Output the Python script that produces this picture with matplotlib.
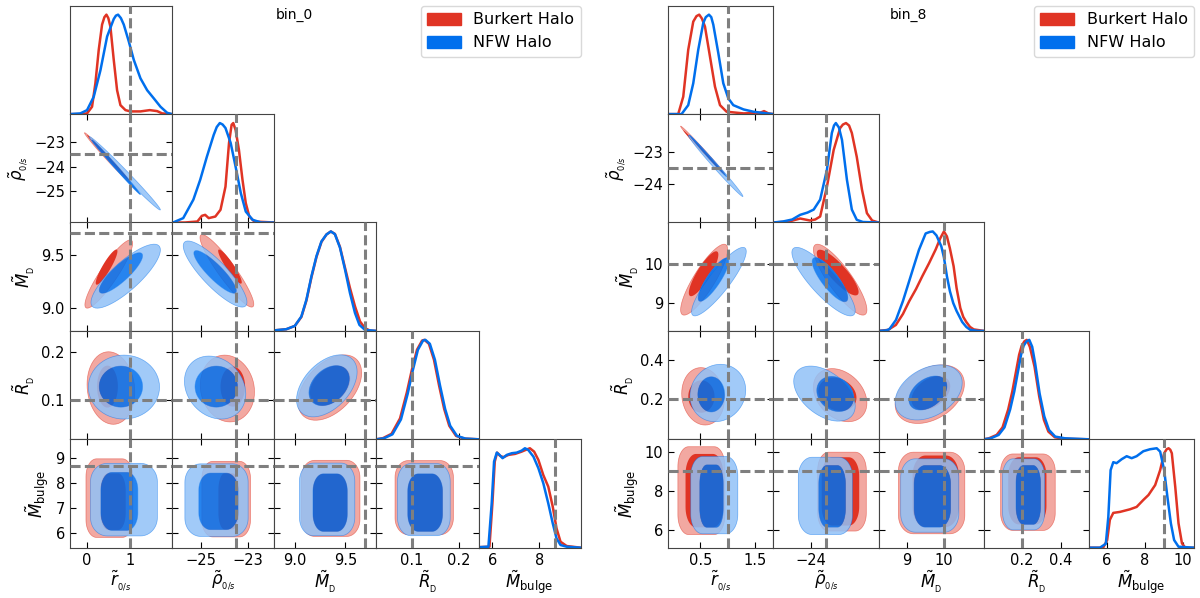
import numpy as np
import matplotlib
matplotlib.use('Agg')
import matplotlib.pyplot as plt
from matplotlib.colors import to_rgb, to_rgba
from matplotlib.patches import Patch, PathPatch
from matplotlib.path import Path
from matplotlib.transforms import Affine2D

RED = '#E03424'
BLUE = '#006FED'
TRUTH = '#7f7f7f'

names = ['Burkert Halo', 'NFW Halo']
xlabels = [r'$\tilde{r}_{_{0/s}}$', r'$\tilde{\rho}_{_{0/s}}$', r'$\tilde{M}_{_{\rm D}}$',
           r'$\tilde{R}_{_{\rm D}}$', r'$\tilde{M}_{\rm bulge}$']

# lower-triangle 2D panels, in this order
pairs = [(1, 0), (2, 0), (2, 1), (3, 0), (3, 1), (3, 2), (4, 0), (4, 1), (4, 2), (4, 3)]

# ---------------- bin_0 ----------------
bin0_xlim = [(-0.40, 1.955), (-26.23, -21.9), (8.795, 9.807), (0.0252, 0.2423), (5.42, 9.756)]
bin0_ylim = [None, (-26.28, -21.85), (8.787, 9.803), (0.0176, 0.2447), (5.41, 9.74)]
bin0_truth = [1.0, -23.5, 9.7, 0.1, 8.68]
bin0_xticks = [[0, 1], [-25, -23], [9.0, 9.5], [0.1, 0.2], [6, 8]]
bin0_xticklabels = [['0', '1'], ['\u221225', '\u221223'], ['9.0', '9.5'], ['0.1', '0.2'], ['6', '8']]
bin0_yticks = [None, [-25, -24, -23], [9.0, 9.5], [0.1, 0.2], [6, 7, 8, 9]]
bin0_yticklabels = [None, ['\u221225', '\u221224', '\u221223'], ['9.0', '9.5'], ['0.1', '0.2'],
                    ['6', '7', '8', '9']]

# (cx, cy, half-width x, half-width y, correlation, corner rounding)
bin0_burkert_outer = [
    (0.47, -23.63, 0.53, 1.02, -0.993, 1),
    (0.50, 9.32, 0.55, 0.32, 0.90, 1),
    (-23.90, 9.35, 1.14, 0.34, -0.92, 1),
    (0.55, 0.125, 0.55, 0.076, -0.1, 1),
    (-23.88, 0.124, 1.15, 0.070, -0.1, 1),
    (9.347, 0.126, 0.315, 0.0685, 0.45, 1),
    (0.515, 7.39, 0.54, 1.57, 0.0, 0.45),
    (-23.93, 7.35, 1.03, 1.51, 0.0, 0.45),
    (9.355, 7.38, 0.29, 1.52, 0.0, 0.45),
    (0.127, 7.41, 0.062, 1.48, 0.0, 0.45),
]
bin0_burkert_inner = [
    (0.48, -23.62, 0.48, 0.92, -0.996, 1),
    (0.45, 9.385, 0.25, 0.165, 0.90, 1),
    (-23.77, 9.39, 0.50, 0.16, -0.92, 1),
    (0.47, 0.128, 0.24, 0.044, 0.0, 1),
    (-23.65, 0.128, 0.52, 0.042, 0.0, 1),
    (9.35, 0.13, 0.20, 0.042, 0.35, 1),
    (0.60, 7.25, 0.29, 1.13, 0.0, 0.6),
    (-23.83, 7.26, 0.43, 1.12, 0.0, 0.6),
    (9.35, 7.21, 0.17, 1.15, 0.0, 0.6),
    (0.129, 7.21, 0.037, 1.15, 0.0, 0.6),
]
bin0_nfw_outer = [
    (0.87, -24.27, 0.82, 1.50, -0.993, 1),
    (0.89, 9.30, 0.80, 0.30, 0.82, 1),
    (-24.40, 9.32, 1.35, 0.31, -0.85, 1),
    (0.85, 0.127, 0.82, 0.067, 0.0, 1),
    (-24.40, 0.126, 1.30, 0.066, -0.2, 1),
    (9.317, 0.1296, 0.30, 0.065, 0.45, 1),
    (0.85, 7.33, 0.77, 1.45, 0.0, 0.5),
    (-24.34, 7.31, 1.34, 1.45, 0.0, 0.5),
    (9.32, 7.34, 0.274, 1.45, 0.0, 0.5),
    (0.1262, 7.33, 0.056, 1.44, 0.0, 0.5),
]
bin0_nfw_inner = [
    (0.67, -24.02, 0.56, 1.12, -0.996, 1),
    (0.78, 9.33, 0.50, 0.19, 0.85, 1),
    (-24.40, 9.34, 0.90, 0.20, -0.88, 1),
    (0.78, 0.128, 0.50, 0.043, 0.0, 1),
    (-24.35, 0.128, 0.90, 0.043, 0.0, 1),
    (9.34, 0.13, 0.20, 0.042, 0.35, 1),
    (0.745, 7.26, 0.425, 1.16, 0.0, 0.6),
    (-24.26, 7.26, 0.83, 1.13, 0.0, 0.6),
    (9.35, 7.21, 0.17, 1.15, 0.0, 0.6),
    (0.129, 7.21, 0.037, 1.15, 0.0, 0.6),
]

bin0_burkert_1d = [
    ([-0.40, -0.154, 0.0, 0.115, 0.192, 0.269, 0.346, 0.40, 0.446, 0.49, 0.538, 0.615, 0.692,
      0.769, 0.885, 1.0, 1.23, 1.446, 1.615, 1.73, 1.955],
     [0, 0, 0.007, 0.074, 0.31, 0.646, 0.9, 0.975, 1.0, 0.965, 0.88, 0.545, 0.24, 0.09, 0.04,
      0.027, 0.027, 0.04, 0.03, 0.007, 0]),
    ([-26.23, -25.68, -25.15, -24.96, -24.82, -24.67, -24.39, -24.17, -23.96, -23.81, -23.7,
      -23.63, -23.53, -23.39, -23.24, -23.1, -22.95, -22.74, -21.9],
     [0, 0, 0.01, 0.067, 0.077, 0.044, 0.06, 0.128, 0.36, 0.8, 0.983, 1.0, 0.93, 0.73, 0.43,
      0.195, 0.06, 0.01, 0]),
    ([8.795, 8.916, 9.0, 9.065, 9.115, 9.165, 9.215, 9.264, 9.314, 9.357, 9.397, 9.447, 9.497,
      9.546, 9.596, 9.646, 9.695, 9.745, 9.807],
     [0.005, 0.017, 0.05, 0.14, 0.305, 0.54, 0.745, 0.895, 0.97, 1.0, 0.975, 0.845, 0.635, 0.432,
      0.247, 0.095, 0.027, 0.003, 0]),
    ([0.0252, 0.0395, 0.0575, 0.0756, 0.090, 0.1008, 0.1116, 0.1225, 0.1275, 0.137, 0.1477,
      0.1586, 0.1694, 0.1802, 0.1946, 0.2127, 0.2423],
     [0, 0.012, 0.055, 0.21, 0.47, 0.7, 0.9, 0.993, 1.0, 0.96, 0.8, 0.54, 0.305, 0.136, 0.034,
      0.007, 0]),
    ([5.42, 5.885, 6.01, 6.11, 6.21, 6.34, 6.48, 6.69, 6.97, 7.25, 7.49, 7.6, 7.78, 7.96, 8.17,
      8.38, 8.57, 8.73, 8.9, 9.16, 9.756],
     [0.005, 0.01, 0.446, 0.866, 0.956, 0.923, 0.91, 0.933, 0.943, 0.966, 0.99, 1.0, 0.966,
      0.883, 0.73, 0.614, 0.413, 0.195, 0.06, 0.017, 0]),
]
bin0_nfw_1d = [
    ([-0.40, -0.154, 0.0, 0.154, 0.308, 0.462, 0.615, 0.665, 0.715, 0.78, 0.846, 0.962, 1.077,
      1.23, 1.385, 1.538, 1.692, 1.846, 1.955],
     [0, 0.007, 0.04, 0.175, 0.44, 0.78, 0.956, 0.99, 1.0, 0.965, 0.9, 0.73, 0.545, 0.36, 0.24,
      0.158, 0.074, 0.013, 0]),
    ([-26.23, -26.18, -25.75, -25.32, -25.03, -24.75, -24.46, -24.33, -24.2, -24.08, -23.96,
      -23.74, -23.53, -23.31, -23.1, -22.81, -22.45, -21.9],
     [0, 0, 0.044, 0.23, 0.43, 0.66, 0.88, 0.96, 1.0, 0.985, 0.95, 0.8, 0.56, 0.295, 0.11, 0.027,
      0, 0]),
    ([8.795, 8.916, 9.0, 9.065, 9.115, 9.165, 9.215, 9.264, 9.314, 9.357, 9.397, 9.447, 9.497,
      9.546, 9.596, 9.64, 9.695, 9.807],
     [0.005, 0.017, 0.05, 0.145, 0.314, 0.55, 0.753, 0.9, 0.97, 1.0, 0.973, 0.838, 0.618, 0.382,
      0.18, 0.06, 0.01, 0]),
    ([0.0252, 0.0415, 0.0595, 0.0776, 0.092, 0.1028, 0.1136, 0.1245, 0.1295, 0.139, 0.1497,
      0.1606, 0.1714, 0.1822, 0.1966, 0.2147, 0.2423],
     [0, 0.01, 0.05, 0.2, 0.46, 0.695, 0.9, 0.993, 1.0, 0.96, 0.8, 0.54, 0.305, 0.136, 0.034,
      0.007, 0]),
    ([5.42, 5.84, 5.98, 6.08, 6.196, 6.31, 6.44, 6.62, 6.83, 7.04, 7.25, 7.39, 7.53, 7.75, 7.96,
      8.17, 8.38, 8.57, 8.73, 8.9, 9.16, 9.756],
     [0.005, 0.01, 0.446, 0.866, 0.956, 0.933, 0.9, 0.933, 0.95, 0.956, 0.976, 1.0, 0.983, 0.916,
      0.8, 0.648, 0.446, 0.245, 0.094, 0.027, 0.01, 0]),
]

# ---------------- bin_8 ----------------
bin8_xlim = [(-0.087, 1.836), (-25.21, -21.79), (8.247, 11.07), (0.004, 0.543), (5.08, 10.58)]
bin8_ylim = [None, (-25.22, -21.79), (8.30, 11.05), (-0.005, 0.55), (5.077, 10.63)]
bin8_truth = [1.0, -23.5, 10.0, 0.2, 9.0]
bin8_xticks = [[0.5, 1.5], [-24], [9, 10], [0.2, 0.4], [6, 8, 10]]
bin8_xticklabels = [['0.5', '1.5'], ['\u221224'], ['9', '10'], ['0.2', '0.4'], ['6', '8', '10']]
bin8_yticks = [None, [-24, -23], [9, 10], [0.2, 0.4], [6, 8, 10]]
bin8_yticklabels = [None, ['\u221224', '\u221223'], ['9', '10'], ['0.2', '0.4'], ['6', '8', '10']]

bin8_burkert_outer = [
    (0.545, -22.94, 0.406, 0.77, -0.995, 1),
    (0.57, 9.60, 0.43, 0.90, 0.85, 1),
    (-23.04, 9.60, 0.87, 0.90, -0.85, 1),
    (0.55, 0.215, 0.39, 0.147, -0.1, 1),
    (-23.04, 0.221, 0.87, 0.136, -0.3, 1),
    (9.62, 0.226, 0.93, 0.15, 0.35, 1),
    (0.52, 8.0, 0.43, 2.25, 0.0, 0.45),
    (-22.98, 7.95, 0.79, 2.02, 0.0, 0.45),
    (9.67, 7.88, 0.89, 2.09, 0.0, 0.45),
    (0.23, 7.92, 0.14, 1.96, 0.0, 0.45),
]
bin8_burkert_inner = [
    (0.554, -22.98, 0.366, 0.68, -0.997, 1),
    (0.56, 9.75, 0.27, 0.57, 0.85, 1),
    (-23.12, 9.78, 0.68, 0.58, -0.85, 1),
    (0.52, 0.214, 0.24, 0.083, 0.0, 1),
    (-23.13, 0.225, 0.62, 0.085, -0.2, 1),
    (9.65, 0.232, 0.52, 0.087, 0.4, 1),
    (0.575, 8.0, 0.345, 1.88, 0.0, 0.55),
    (-23.03, 7.96, 0.61, 1.75, 0.0, 0.55),
    (9.78, 7.97, 0.62, 1.83, 0.0, 0.55),
    (0.227, 7.99, 0.098, 1.72, 0.0, 0.55),
]
bin8_nfw_outer = [
    (0.78, -23.43, 0.50, 0.97, -0.993, 1),
    (0.84, 9.55, 0.50, 0.87, 0.88, 1),
    (-23.58, 9.55, 1.03, 0.87, -0.85, 1),
    (0.82, 0.232, 0.51, 0.147, 0.1, 1),
    (-23.55, 0.229, 1.00, 0.141, -0.45, 1),
    (9.59, 0.235, 0.90, 0.141, 0.35, 1),
    (0.755, 7.77, 0.43, 1.98, 0.0, 0.5),
    (-23.52, 7.73, 0.88, 1.98, 0.0, 0.5),
    (9.62, 7.75, 0.78, 1.88, 0.0, 0.5),
    (0.208, 7.81, 0.108, 1.82, 0.0, 0.5),
]
bin8_nfw_inner = [
    (0.64, -23.11, 0.34, 0.66, -0.997, 1),
    (0.74, 9.60, 0.28, 0.55, 0.85, 1),
    (-23.37, 9.60, 0.58, 0.56, -0.82, 1),
    (0.70, 0.225, 0.245, 0.09, 0.0, 1),
    (-23.20, 0.227, 0.60, 0.09, -0.2, 1),
    (9.57, 0.232, 0.51, 0.087, 0.4, 1),
    (0.705, 7.72, 0.215, 1.60, 0.0, 0.6),
    (-23.30, 7.71, 0.435, 1.58, 0.0, 0.6),
    (9.69, 7.71, 0.49, 1.58, 0.0, 0.6),
    (0.232, 7.78, 0.063, 1.51, 0.0, 0.6),
]

bin8_burkert_1d = [
    ([-0.087, 0.096, 0.188, 0.279, 0.371, 0.43, 0.48, 0.53, 0.585, 0.676, 0.768, 0.86, 0.98,
      1.29, 1.59, 1.665, 1.745, 1.836],
     [0, 0, 0.175, 0.646, 0.93, 0.985, 1.0, 0.96, 0.88, 0.58, 0.276, 0.09, 0.024, 0.007, 0.013,
      0.03, 0.007, 0]),
    ([-25.21, -24.7, -24.34, -24.02, -23.85, -23.69, -23.47, -23.25, -23.04, -22.95, -22.85,
      -22.75, -22.66, -22.5, -22.33, -22.17, -22.0, -21.79],
     [0, 0.01, 0.04, 0.02, 0.03, 0.06, 0.36, 0.73, 0.95, 0.985, 1.0, 0.975, 0.9, 0.66, 0.33,
      0.094, 0.02, 0]),
    ([8.247, 8.5, 8.71, 8.9, 9.07, 9.25, 9.42, 9.6, 9.78, 9.9, 10.0, 10.08, 10.16, 10.26, 10.34,
      10.44, 10.52, 10.6, 10.7, 10.8, 11.07],
     [0, 0.01, 0.06, 0.17, 0.3, 0.42, 0.55, 0.68, 0.82, 0.93, 1.0, 0.95, 0.83, 0.65, 0.43, 0.23,
      0.14, 0.09, 0.04, 0.015, 0]),
    ([0.004, 0.03, 0.07, 0.1, 0.129, 0.15, 0.168, 0.185, 0.198, 0.212, 0.224, 0.24, 0.264,
      0.288, 0.312, 0.335, 0.368, 0.42, 0.543],
     [0, 0.01, 0.044, 0.12, 0.3, 0.48, 0.67, 0.85, 0.94, 0.985, 1.0, 0.93, 0.73, 0.43, 0.195,
      0.077, 0.02, 0.005, 0]),
    ([5.08, 5.82, 6.03, 6.17, 6.35, 6.7, 7.22, 7.57, 7.92, 8.19, 8.54, 8.8, 9.01, 9.14, 9.24,
      9.33, 9.41, 9.59, 9.76, 9.94, 10.11, 10.58],
     [0, 0, 0.077, 0.28, 0.35, 0.36, 0.386, 0.41, 0.48, 0.53, 0.63, 0.78, 0.95, 0.99, 1.0, 0.985,
      0.95, 0.61, 0.245, 0.044, 0, 0]),
]
bin8_nfw_1d = [
    ([-0.087, 0.157, 0.279, 0.371, 0.462, 0.554, 0.60, 0.658, 0.70, 0.737, 0.829, 0.92, 1.012,
      1.103, 1.29, 1.47, 1.714, 1.836],
     [0, 0, 0.09, 0.31, 0.646, 0.916, 0.975, 1.0, 0.975, 0.9, 0.613, 0.31, 0.158, 0.09, 0.047,
      0.024, 0.007, 0]),
    ([-25.21, -24.9, -24.6, -24.34, -24.1, -23.9, -23.69, -23.47, -23.31, -23.24, -23.18, -23.08,
      -22.98, -22.82, -22.66, -22.5, -22.3, -21.79],
     [0, 0.01, 0.03, 0.077, 0.1, 0.13, 0.23, 0.53, 0.9, 0.975, 1.0, 0.955, 0.83, 0.43, 0.13,
      0.027, 0.005, 0]),
    ([8.247, 8.45, 8.536, 8.713, 8.9, 9.067, 9.2, 9.33, 9.51, 9.62, 9.70, 9.8, 9.93, 10.0, 10.08,
      10.16, 10.25, 10.34, 10.49, 10.6, 10.7, 10.9, 11.07],
     [0, 0.005, 0.017, 0.11, 0.3, 0.5, 0.66, 0.815, 0.98, 0.995, 1.0, 0.96, 0.85, 0.74, 0.55,
      0.4, 0.28, 0.2, 0.09, 0.04, 0.012, 0, 0]),
    ([0.004, 0.04, 0.08, 0.11, 0.139, 0.16, 0.178, 0.195, 0.208, 0.223, 0.237, 0.252, 0.267,
      0.29, 0.314, 0.338, 0.37, 0.42, 0.543],
     [0, 0.01, 0.044, 0.12, 0.3, 0.48, 0.67, 0.85, 0.94, 0.985, 1.0, 0.93, 0.765, 0.46, 0.23,
      0.094, 0.027, 0.01, 0]),
    ([5.08, 5.65, 5.96, 6.09, 6.21, 6.35, 6.52, 6.79, 7.05, 7.31, 7.57, 7.92, 8.27, 8.62, 8.8,
      9.01, 9.18, 9.36, 9.53, 9.76, 10.58],
     [0, 0, 0.04, 0.31, 0.78, 0.86, 0.85, 0.89, 0.92, 0.9, 0.92, 0.97, 0.99, 1.0, 0.966, 0.78,
      0.51, 0.245, 0.077, 0.01, 0]),
]

W, H = 1200, 598
fig = plt.figure(figsize=(W / 100, H / 100), dpi=100)
plt.rcParams['mathtext.fontset'] = 'dejavusans'


def light(color, f=0.43):
    # lighter shade for the outer (95%) region
    c = np.array(to_rgb(color))
    return tuple(c * f + (1 - f))


def region_poly(spec):
    # outline of a rounded square (corner radius rnd; rnd=1 gives a circle), sheared onto the data
    cx, cy, ex, ey, corr, rnd = spec
    pts = []
    for (ox, oy, a0) in [(1, 1, 0), (-1, 1, 90), (-1, -1, 180), (1, -1, 270)]:
        ang = np.radians(np.linspace(a0, a0 + 90, 16))
        pts.append(np.column_stack([ox * (1 - rnd) + rnd * np.cos(ang),
                                    oy * (1 - rnd) + rnd * np.sin(ang)]))
    unit = np.concatenate(pts)
    tr = Affine2D.from_values(ex, ey * corr, 0, ey * np.sqrt(1 - corr ** 2), cx, cy)
    return tr.transform(unit)


def fill_poly(ax, verts, color, alpha, lw=0.0, ec='none', hole=None):
    verts = np.vstack([verts, verts[:1]])
    codes = [Path.MOVETO] + [Path.LINETO] * (len(verts) - 2) + [Path.CLOSEPOLY]
    if hole is not None:
        h = np.vstack([hole[::-1], hole[-1:]])
        verts = np.concatenate([verts, h])
        codes += [Path.MOVETO] + [Path.LINETO] * (len(h) - 2) + [Path.CLOSEPOLY]
    ax.add_patch(PathPatch(Path(verts, codes), facecolor=to_rgba(color, alpha),
                           edgecolor=ec, linewidth=lw, zorder=1))


def corner(x0, colw, xlim, ylim, truth, xticks, xtl, yticks, ytl,
           bk_out, bk_in, nf_out, nf_in, bk_1d, nf_1d, title, title_x):
    rowh = 108.4
    dash = dict(color=TRUTH, lw=2.2, ls=(0, (3.3, 1.4)), zorder=3)
    for i in range(5):
        for j in range(i + 1):
            left = x0 + j * colw
            top = 5.7 + i * rowh
            ax = fig.add_axes([left / W, 1 - (top + rowh) / H, colw / W, rowh / H])
            for s in ax.spines.values():
                s.set_color('#444444')
                s.set_linewidth(0.8)
            ax.set_xlim(*xlim[j])
            ax.set_xticks(xticks[j], xtl[j])
            if i == j:
                ax.plot(*bk_1d[i], color=RED, lw=1.8, zorder=2)
                ax.plot(*nf_1d[i], color=BLUE, lw=1.8, zorder=2)
                ax.set_ylim(0, 1.09)
                ax.set_yticks([])
                ax.axvline(truth[j], **dash)
                ax.tick_params(direction='in', length=4, width=0.8, labelsize=10.5,
                               labelbottom=(i == 4), top=False)
            else:
                k = pairs.index((i, j))
                ax.set_ylim(*ylim[i])
                ax.set_yticks(yticks[i], ytl[i])
                ro, ri = region_poly(bk_out[k]), region_poly(bk_in[k])
                bo, bi = region_poly(nf_out[k]), region_poly(nf_in[k])
                fill_poly(ax, ro, light(RED), 1.0, lw=0.5, ec=to_rgba(RED, 0.55))
                fill_poly(ax, ri, RED, 1.0)
                fill_poly(ax, bo, light(BLUE), 0.85, lw=0.5, ec=to_rgba(BLUE, 0.5), hole=bi)
                fill_poly(ax, bi, BLUE, 0.85)
                ax.axvline(truth[j], **dash)
                ax.axhline(truth[i], **dash)
                ax.tick_params(direction='in', length=4, width=0.8, labelsize=10.5,
                               top=True, right=True,
                               labelbottom=(i == 4), labelleft=(j == 0))
                if j == 0:
                    ax.set_ylabel(xlabels[i], fontsize=12, labelpad=3)
            if i == 4:
                ax.set_xlabel(xlabels[j], fontsize=12, labelpad=1)
    fig.text(title_x / W, 1 - 15 / H, title, ha='center', va='center', fontsize=10)
    handles = [Patch(facecolor=RED, edgecolor=RED), Patch(facecolor=BLUE, edgecolor=BLUE)]
    fig.legend(handles, names, loc='upper right',
               bbox_to_anchor=((x0 + 5 * colw) / W, 1 - 6 / H), borderaxespad=0,
               fontsize=11.5, handlelength=2.1, handleheight=0.8, handletextpad=0.8,
               labelspacing=0.5, borderpad=0.4, frameon=True, edgecolor='#d0d0d0',
               fancybox=True)


corner(69.7, 102.2, bin0_xlim, bin0_ylim, bin0_truth, bin0_xticks, bin0_xticklabels,
       bin0_yticks, bin0_yticklabels, bin0_burkert_outer, bin0_burkert_inner,
       bin0_nfw_outer, bin0_nfw_inner, bin0_burkert_1d, bin0_nfw_1d, 'bin_0', 294)
corner(668.2, 105.2, bin8_xlim, bin8_ylim, bin8_truth, bin8_xticks, bin8_xticklabels,
       bin8_yticks, bin8_yticklabels, bin8_burkert_outer, bin8_burkert_inner,
       bin8_nfw_outer, bin8_nfw_inner, bin8_burkert_1d, bin8_nfw_1d, 'bin_8', 908)

fig.savefig('out.png', dpi=100)
